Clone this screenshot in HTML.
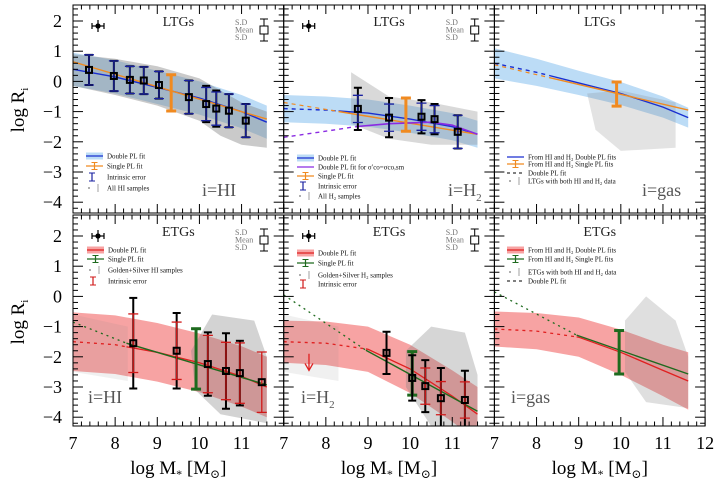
<!DOCTYPE html>
<html><head><meta charset="utf-8">
<style>
html,body{margin:0;padding:0;background:#fff;}
svg{display:block;}
text{font-family:"Liberation Serif","DejaVu Serif",serif;}
.lg{font-family:"Liberation Serif",serif;font-size:7px;fill:#111;}
</style></head>
<body>
<svg id="chart" width="720" height="482" viewBox="0 0 720 482" xmlns="http://www.w3.org/2000/svg"></svg>
<script>
// ---------- DATA ----------
const xTicks = [7,8,9,10,11,12];
const yTicks = [2,1,0,-1,-2,-3,-4];
const panelTitles = ["LTGs","LTGs","LTGs","ETGs","ETGs","ETGs"];
const panelLabels = ["i=HI","i=H","i=gas","i=HI","i=H","i=gas"];
const bandX = [7,8,9,10,11,11.6];
const band1C = [0.4,0.15,-0.2,-0.55,-1.0,-1.35];
const band1W = [0.55,0.55,0.55,0.55,0.55,0.55];
const band2C = [-0.9,-0.95,-1.05,-1.25,-1.5,-1.75];
const band2W = [0.45,0.45,0.45,0.45,0.45,0.45];
const band3C = [0.6,0.3,-0.05,-0.4,-0.85,-1.2];
const band3W = [0.5,0.45,0.4,0.38,0.35,0.33];
const band4C = [-1.5,-1.6,-1.85,-2.2,-2.65,-3.0];
const band4W = [0.97,0.97,0.97,0.97,1.0,1.0];
const band5C = [-1.5,-1.55,-1.75,-2.4,-3.3,-3.9];
const band5W = [0.7,0.72,0.75,0.8,0.85,0.9];
const band6C = [-1.08,-1.15,-1.35,-1.85,-2.45,-2.8];
const band6W = [0.58,0.6,0.65,0.75,0.85,0.95];
const singleX = [7,11.6];
const single1Y = [0.65,-1.25];
const single2Y = [-0.7,-1.75];
const single3Y = [0.55,-0.95];
const single4Y = [-0.85,-2.93];
const single5Y = [0.05,-3.8];
const single6Y = [0.15,-2.57];
const purpleX = [7,8,8.7,9.5,10.5,11,11.6];
const purpleY = [-1.85,-1.65,-1.5,-1.4,-1.35,-1.45,-1.75];
const pts1X = [7.38,7.97,8.35,8.68,9.04,9.75,10.16,10.4,10.7,11.1];
const pts1Y = [0.38,0.18,0.05,0.03,-0.12,-0.52,-0.75,-0.9,-0.97,-1.3];
const pts1E = [0.5,0.5,0.45,0.45,0.45,0.55,0.6,0.6,0.55,0.55];
const pts1I = [0.5,0.5,0.45,0.45,0.45,0.55,0.55,0.55,0.55,0.55];
const pts2X = [8.76,9.5,10.27,10.58,11.13];
const pts2Y = [-0.91,-1.2,-1.17,-1.25,-1.67];
const pts2E = [0.7,0.65,0.55,0.5,0.55];
const pts2I = [0.45,0.45,0.45,0.45,0.55];
const pts4X = [8.43,9.46,10.2,10.63,10.96,11.48];
const pts4Y = [-1.55,-1.8,-2.24,-2.47,-2.54,-2.84];
const pts4E = [1.5,1.25,1.05,1.25,1.07,0];
const pts4I = [0.97,0.95,0.95,0.95,1.0,1.0];
const pts5X = [9.44,10.05,10.36,10.73,11.3];
const pts5Y = [-1.87,-2.7,-2.97,-3.37,-3.43];
const pts5E = [0.7,0.75,0.86,1.0,0.97];
const pts5I = [0,0,0.6,0.55,0.6];
const sfX = [9.33,9.9,9.9,9.92,10.05,9.96];
const sfY = [-0.38,-1.1,-0.42,-2.07,-2.55,-1.85];
const sfE = [0.6,0.55,0.4,1.0,0.72,0.72];
const cloud1X = [7,8,9,10,10.5,11,11.6,11.6,11,10.5,10,9,8,7];
const cloud1Y = [0.9,0.75,0.5,0.1,-0.3,-0.7,-1.0,-2.2,-2.1,-1.8,-1.3,-0.8,-0.45,-0.15];
const cloud2X = [8.6,9.5,10.5,11.6,11.6,10.5,9.5,8.6];
const cloud2Y = [0.3,-0.5,-0.7,-1.0,-2.1,-2.1,-1.9,-1.4];
const cloud3X = [9.2,10,11.3,11.3,10,9.4];
const cloud3Y = [-0.4,-0.3,-0.7,-2.2,-2.3,-1.6];
const cloud4X = [9.8,10.3,11.3,11.6,11.6,10.5,9.9];
const cloud4Y = [-1.8,-0.6,-0.8,-2.0,-4.2,-3.9,-3.1];
const cloud5X = [9.9,10.5,11.3,11.6,11.6,10.5,9.9];
const cloud5Y = [-1.8,-1.0,-1.2,-2.6,-4.3,-4.3,-3.0];
const cloud6X = [10.1,10.6,11.3,11.6,11.6,10.6,10.1];
const cloud6Y = [-0.8,0.0,-0.8,-2.0,-3.7,-3.5,-2.5];
const cloud0X = [7,8.3,8.3,7];
const cloud0Y = [-0.6,-1.0,-2.8,-2.5];

// ---------- DRAWING ----------
const NS="http://www.w3.org/2000/svg";
const svg=document.getElementById('chart');
const PW=210.7, UX=42.14, UY=30.2;
function X(p,v){return 73+(p%3)*PW+(v-7)*UX;}
function Y(p,v){return (p<3?21:236)+(2-v)*UY;}
function el(tag,attrs,parent){const e=document.createElementNS(NS,tag);for(const k in attrs)e.setAttribute(k,attrs[k]);(parent||svg).appendChild(e);return e;}
function panelTop(p){return p<3?5:215;}
function panelBot(p){return p<3?213:426;}

const defs=el('defs',{});
for(let p=0;p<6;p++){
  const cp=el('clipPath',{id:'clip'+p},defs);
  el('rect',{x:X(p,7),y:panelTop(p),width:PW,height:panelBot(p)-panelTop(p)},cp);
}
function poly(p,xs,ys,attrs,g){
  const d=xs.map((x,i)=>X(p,x).toFixed(1)+','+Y(p,ys[i]).toFixed(1)).join(' ');
  return el('polygon',Object.assign({points:d},attrs),g);
}
function line(p,xs,ys,attrs,g){
  const pts=[];for(let i=0;i<xs.length;i++){pts.push(X(p,xs[i]).toFixed(1)+','+Y(p,ys[i]).toFixed(1));}
  return el('polyline',Object.assign({points:pts.join(' '),fill:'none'},attrs),g);
}
function interp(xs,ys,x){for(let i=0;i<xs.length-1;i++){if(x<=xs[i+1]){const t=(x-xs[i])/(xs[i+1]-xs[i]);return ys[i]+t*(ys[i+1]-ys[i]);}}return ys[ys.length-1];}
function segLine(p,xs,ys,x0,x1,attrs,g){
  const px=[x0],py=[interp(xs,ys,x0)];
  xs.forEach((x,i)=>{if(x>x0&&x<x1){px.push(x);py.push(ys[i]);}});
  px.push(x1);py.push(interp(xs,ys,x1));
  return line(p,px,py,attrs,g);
}
function band(p,c,w,color,g){
  const xs=bandX.concat(bandX.slice().reverse());
  const ys=c.map((v,i)=>v+w[i]).concat(c.map((v,i)=>v-w[i]).reverse());
  const b=poly(p,xs,ys,{fill:color},g);
  
  
}
function cloud(p,xs,ys,g,op){
  const c=poly(p,xs,ys,{fill:'#808080','fill-opacity':op},g);
  
  
}
function ebar(p,x,y,e,color,w,cap,g){
  if(!e)return;
  const gx=X(p,x),y1=Y(p,y+e),y2=Y(p,y-e);
  el('line',{x1:gx,x2:gx,y1:y1,y2:y2,stroke:color,'stroke-width':w},g);
  el('line',{x1:gx-cap,x2:gx+cap,y1:y1,y2:y1,stroke:color,'stroke-width':w},g);
  el('line',{x1:gx-cap,x2:gx+cap,y1:y2,y2:y2,stroke:color,'stroke-width':w},g);
}
function points(p,xs,ys,es,is,icol,g){
  xs.forEach((x,i)=>{
    const bg=el('g',{},g);
    
    
    ebar(p,x,ys[i],es[i],'#000',2,4,bg);
    ebar(p,x,ys[i],is[i],icol,1.3,5,bg);
    el('rect',{x:X(p,x)-3,y:Y(p,ys[i])-3,width:6,height:6,fill:'none',stroke:'#000','stroke-width':2},bg);
  });
}
function sfbar(p,i,color,g){
  const b=el('g',{},g);
  
  
  ebar(p,sfX[i],sfY[i],sfE[i],color,3,5,b);
}
const bands=[[band1C,band1W,'#bcdcf6'],[band2C,band2W,'#bcdcf6'],[band3C,band3W,'#bcdcf6'],[band4C,band4W,'#f7a3a3'],[band5C,band5W,'#f7a3a3'],[band6C,band6W,'#f7a3a3']];
const clouds=[[cloud1X,cloud1Y],[cloud2X,cloud2Y],[cloud3X,cloud3Y],[cloud4X,cloud4Y],[cloud5X,cloud5Y],[cloud6X,cloud6Y]];
const cloudOp=[0.42,0.3,0.22,0.35,0.32,0.25];
const singles=[single1Y,single2Y,single3Y,single4Y,single5Y,single6Y];

for(let p=0;p<6;p++){
  const g=el('g',{'clip-path':'url(#clip'+p+')'});
  
  
  band(p,bands[p][0],bands[p][1],bands[p][2],g);
  if(p===3||p===4) cloud(p,cloud0X,cloud0Y,g,0.12);
  cloud(p,clouds[p][0],clouds[p][1],g,cloudOp[p]);
  const main=bands[p][0];
  if(p<3){
    const bx = p===0?7:8.6;
    if(p===0){segLine(p,bandX,main,7,11.6,{stroke:'#1a2fd0','stroke-width':1.4},g);}
    else{
      segLine(p,bandX,main,7,bx-0.3,{stroke:'#1a2fd0','stroke-width':1.4,'stroke-dasharray':'4,4'},g);
      segLine(p,bandX,main,bx-0.3,11.6,{stroke:'#1a2fd0','stroke-width':1.4},g);
    }
    const sy=singles[p];
    if(p===0) line(p,singleX,sy,{stroke:'#f08a20','stroke-width':1.4},g);
    else{
      segLine(p,singleX,sy,7,bx-0.3,{stroke:'#f08a20','stroke-width':1.2,'stroke-dasharray':'4,4'},g);
      segLine(p,singleX,sy,bx-0.3,11.6,{stroke:'#f08a20','stroke-width':1.4},g);
    }
    if(p===1){
      segLine(p,purpleX,purpleY,7,8.7,{stroke:'#8a2be2','stroke-width':1.4,'stroke-dasharray':'4,4'},g);
      segLine(p,purpleX,purpleY,8.7,11.6,{stroke:'#8a2be2','stroke-width':1.6},g);
    }
  } else {
    const bx = p===3?8.27:8.95;
    segLine(p,bandX,main,7,bx,{stroke:'#e02020','stroke-width':1.3,'stroke-dasharray':'3,4'},g);
    segLine(p,bandX,main,bx,11.6,{stroke:'#e02020','stroke-width':1.3},g);
    const sy=singles[p];
    const gx=[7,bx,11.6], gy=[sy[0], p===3?-1.55:(p===4?-1.78:-1.28), sy[1]];
    segLine(p,gx,gy,7,bx,{stroke:'#1e6a1e','stroke-width':1.3,'stroke-dasharray':'2,4'},g);
    segLine(p,gx,gy,bx,11.6,{stroke:'#1e6a1e','stroke-width':1.4},g);
  }
  if(p===0){points(p,pts1X,pts1Y,pts1E,pts1I,'#1a22a0',g);sfbar(p,0,'#f08a20',g);}
  if(p===1){points(p,pts2X,pts2Y,pts2E,pts2I,'#1a22a0',g);sfbar(p,1,'#f08a20',g);}
  if(p===2){sfbar(p,2,'#f08a20',g);}
  if(p===3){sfbar(p,3,'#1e6a1e',g);points(p,pts4X,pts4Y,pts4E,pts4I,'#d01818',g);}
  if(p===4){sfbar(p,4,'#1e6a1e',g);points(p,pts5X,pts5Y,pts5E,pts5I,'#d01818',g);
    const ax=X(p,7.6);
    const ar=el('g',{},g);
    
    
    el('line',{x1:ax,x2:ax,y1:Y(p,-1.9),y2:Y(p,-2.45),stroke:'#e02020','stroke-width':1.3},ar);
    el('polyline',{points:(ax-4)+','+(Y(p,-2.45)-7)+' '+ax+','+Y(p,-2.45)+' '+(ax+4)+','+(Y(p,-2.45)-7),fill:'none',stroke:'#e02020','stroke-width':1.3},ar);
  }
  if(p===5){sfbar(p,5,'#1e6a1e',g);}
}
for(let p=0;p<6;p++){
  const x0=X(p,7),x1=x0+PW,t=panelTop(p),b=panelBot(p);
  const ax=el('g',{stroke:'#000','stroke-width':1,fill:'none'});
  
  
  el('rect',{x:x0,y:t,width:PW,height:b-t},ax);
  for(let k=0;k<=25;k++){
    const v=7+k*0.2, xx=X(p,v), L=(k%5===0)?9:4.5;
    el('line',{x1:xx,x2:xx,y1:b,y2:b-L},ax);
    el('line',{x1:xx,x2:xx,y1:t,y2:t+L},ax);
  }
  for(let k=-25;k<=15;k++){
    const v=k*0.2, yy=Y(p,v);
    if(yy<t||yy>b)continue;
    const L=(k%5===0)?10:5;
    el('line',{x1:x0,x2:x0+L,y1:yy,y2:yy},ax);
    el('line',{x1:x1,x2:x1-L,y1:yy,y2:yy},ax);
  }
}
for(let r=0;r<2;r++){
  yTicks.forEach(v=>{
    const tx=el('text',{x:62,y:Y(r*3,v)+6,'text-anchor':'end','font-size':18,fill:'#000'});
    tx.textContent=v<0?'\u2212'+(-v):String(v);
    
    
  });
  const yt=el('text',{x:0,y:0,'font-size':19,'text-anchor':'middle',fill:'#000',transform:'translate(24,'+(r?322:110)+') rotate(-90)'});
  yt.innerHTML='log R<tspan font-size="11" dy="4">i</tspan>';
  
  
}
for(let p=3;p<6;p++){
  xTicks.forEach(v=>{
    if(v===12&&p<5)return;
    const tx=el('text',{x:X(p,v),y:449,'text-anchor':'middle','font-size':18,fill:'#000'});
    tx.textContent=String(v);
    
    
  });
  const xt=el('text',{x:X(p,7)+PW/2,y:474,'text-anchor':'middle','font-size':19,fill:'#000'});
  xt.innerHTML='log M<tspan font-size="12" dy="4">*</tspan><tspan dy="-4"> [M</tspan><tspan font-size="12" dy="4">\u2299</tspan><tspan dy="-4">]</tspan>';
  
  
}
const labelPos=[[202,196],[448,196],[642,196],[88,403],[301,403],[511,403]];
for(let p=0;p<6;p++){
  const t=el('text',{x:X(p,7)+PW/2,y:panelTop(p)+21,'text-anchor':'middle','font-size':14,fill:'#222'});
  t.textContent=panelTitles[p];
  
  
  const lp=labelPos[p];
  const l=el('text',{x:lp[0],y:lp[1],'font-size':18,fill:'#555'});
  if(p===1||p===4) l.innerHTML='i=H<tspan font-size="11" dy="5">2</tspan>';
  else l.textContent=panelLabels[p];
  
  
  if(p!==2&&p!==5){
    const t0=panelTop(p);
    const sd=el('g',{});
    
    
    const sx=X(p,7)+162;
    ['S.D','Mean','S.D'].forEach((s,i)=>{const e=el('text',{x:sx,y:t0+20+i*7.5,'font-size':8,fill:'#777'},sd);e.textContent=s;});
    const bx=sx+29;
    el('line',{x1:bx,x2:bx,y1:t0+14,y2:t0+36,stroke:'#000'},sd);
    el('line',{x1:bx-4,x2:bx+4,y1:t0+14,y2:t0+14,stroke:'#000'},sd);
    el('line',{x1:bx-4,x2:bx+4,y1:t0+36,y2:t0+36,stroke:'#000'},sd);
    el('rect',{x:bx-4,y:t0+21,width:8,height:8,fill:'#fff',stroke:'#000'},sd);
    const cx=X(p,7)+25, cy=t0+21;
    const cr=el('g',{stroke:'#000','stroke-width':1.2},sd);
    el('line',{x1:cx-6,x2:cx+6,y1:cy,y2:cy},cr);el('line',{x1:cx,x2:cx,y1:cy-6,y2:cy+6},cr);
    el('line',{x1:cx-6,x2:cx-6,y1:cy-3,y2:cy+3},cr);el('line',{x1:cx+6,x2:cx+6,y1:cy-3,y2:cy+3},cr);
    el('circle',{cx:cx,cy:cy,r:2,fill:'#000'},cr);
  }
}
const legends=[
 [86,[156,166,177,188],[['band','#bcdcf6','#1a2fd0','Double PL fit'],['bar','#f08a20','','Single PL fit'],['ibar','#1a22a0','','Intrinsic error'],['pt','','','All HI samples']]],
 [297,[158,167,176,186,196],[['band','#bcdcf6','#1a2fd0','Double PL fit'],['line','#8a2be2','','Double PL fit for \u03c3\u2032co=\u03c3co,sm'],['bar','#f08a20','','Single PL fit'],['ibar','#1a22a0','','Intrinsic error'],['pt','','','All H\u2082 samples']]],
 [507,[157,164,173,181],[['line','#1a2fd0','','From HI and H\u2082 Double PL fits'],['bar','#f08a20','','From HI and H\u2082 Single PL fits'],['dash','#000','','Double PL fit'],['pt','','','LTGs with both HI and H\u2082 data']]],
 [87,[250,259,270,281],[['band','#f7a3a3','#e02020','Double PL fit'],['bar','#1e6a1e','','Single PL fit'],['pt','','','Golden+Silver HI samples'],['ibar','#d01818','','Intrinsic error']]],
 [297,[253,263,275,284],[['band','#f7a3a3','#e02020','Double PL fit'],['bar','#1e6a1e','','Single PL fit'],['pt','','','Golden+Silver H\u2082 samples'],['ibar','#d01818','','Intrinsic error']]],
 [507,[250,259,272,281],[['band','#f7a3a3','#e02020','From HI and H\u2082 Double PL fits'],['bar','#1e6a1e','','From HI and H\u2082 Single PL fits'],['pt','','','ETGs with both HI and H\u2082 data'],['dash','#000','','Double PL fit']]]
];
legends.forEach((L,li)=>{
  const g=el('g',{});
  
  
  L[2].forEach((it,i)=>{
    const x=L[0], y=L[1][i];
    const en=el('g',{},g);
    
    
    if(it[0]==='band'){el('rect',{x:x,y:y-3.5,width:17,height:7,fill:it[1]},en);el('line',{x1:x,x2:x+17,y1:y,y2:y,stroke:it[2],'stroke-width':1.2},en);}
    if(it[0]==='line'){el('line',{x1:x,x2:x+17,y1:y,y2:y,stroke:it[1],'stroke-width':1.3},en);}
    if(it[0]==='dash'){el('line',{x1:x,x2:x+17,y1:y,y2:y,stroke:it[1],'stroke-width':1,'stroke-dasharray':'3,3'},en);}
    if(it[0]==='bar'){el('line',{x1:x,x2:x+17,y1:y,y2:y,stroke:it[1],'stroke-width':1.2},en);el('line',{x1:x+8.5,x2:x+8.5,y1:y-3.5,y2:y+3.5,stroke:it[1],'stroke-width':1.2},en);el('line',{x1:x+5.5,x2:x+11.5,y1:y-3.5,y2:y-3.5,stroke:it[1]},en);el('line',{x1:x+5.5,x2:x+11.5,y1:y+3.5,y2:y+3.5,stroke:it[1]},en);}
    if(it[0]==='ibar'){el('line',{x1:x+6,x2:x+6,y1:y-4,y2:y+4,stroke:it[1],'stroke-width':1.2},en);el('line',{x1:x+3,x2:x+9,y1:y-4,y2:y-4,stroke:it[1]},en);el('line',{x1:x+3,x2:x+9,y1:y+4,y2:y+4,stroke:it[1]},en);}
    if(it[0]==='pt'){el('circle',{cx:x+3,cy:y,r:0.9,fill:'#777'},en);el('line',{x1:x+12,x2:x+12,y1:y-4,y2:y+4,stroke:'#888','stroke-width':0.8},en);}
    const t=el('text',{x:x+21,y:y+2.5,class:'lg'},en);t.textContent=it[3];
  });
});
</script>
</body></html>
